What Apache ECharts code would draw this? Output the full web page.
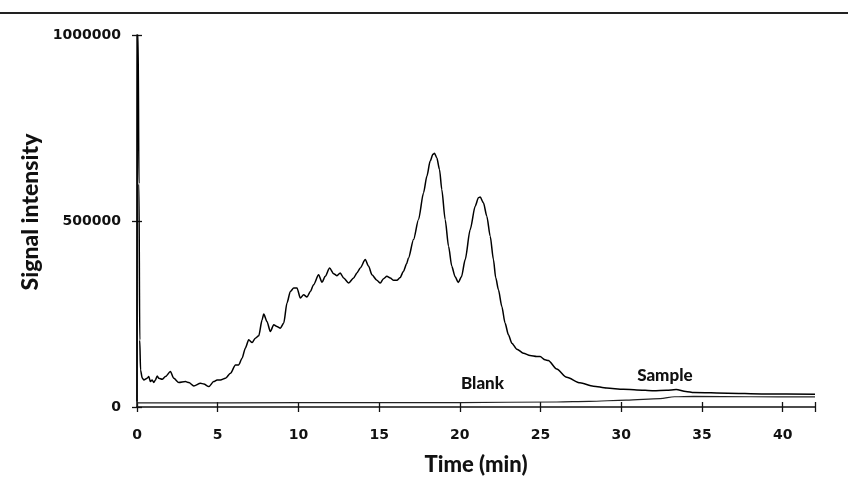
<!DOCTYPE html>
<html>
<head>
<meta charset="utf-8">
<script src="https://cdn.jsdelivr.net/npm/echarts@6/dist/echarts.min.js"></script>
<style>html,body{margin:0;padding:0;background:#fff}#c{width:848px;height:477px}</style>
</head>
<body>
<div id="c"></div>
<script>
// Time axis ticks (min) and signal ticks
const xTickValues = [0, 5, 10, 15, 20, 25, 30, 35, 40];
const yTickValues = [0, 500000, 1000000];

// Sample chromatogram
const sampleTime = [0, 0.02, 0.07, 0.12, 0.17, 0.22, 0.32, 0.42, 0.63, 0.73, 0.83, 0.94, 1.04, 1.14, 1.25, 1.35, 1.56, 1.76, 2.07, 2.28, 2.59, 3.0, 3.21, 3.52, 3.93, 4.14, 4.45, 4.75, 4.96, 5.17, 5.48, 5.79, 6.1, 6.3, 6.51, 6.71, 6.92, 7.13, 7.33, 7.54, 7.75, 7.85, 8.05, 8.26, 8.47, 8.67, 8.88, 9.09, 9.29, 9.5, 9.71, 9.91, 10.12, 10.32, 10.53, 10.74, 10.94, 11.25, 11.46, 11.66, 11.93, 12.18, 12.39, 12.59, 12.8, 13.11, 13.42, 13.62, 13.83, 14.14, 14.35, 14.55, 14.86, 15.07, 15.27, 15.48, 15.69, 15.9, 16.1, 16.3, 16.51, 16.7, 16.82, 17.13, 17.44, 17.75, 17.96, 18.16, 18.33, 18.43, 18.57, 18.74, 18.88, 19.09, 19.3, 19.5, 19.71, 19.9, 20.1, 20.33, 20.64, 20.95, 21.15, 21.26, 21.46, 21.67, 21.88, 22.08, 22.22, 22.39, 22.6, 22.8, 23.01, 23.22, 23.53, 23.94, 24.35, 24.76, 24.97, 25.28, 25.48, 26.0, 26.62, 27.44, 28.27, 29.09, 30.13, 30.95, 32.0, 32.8, 33.4, 34.0, 34.5, 36.6, 38.7, 42];
const sampleSignal = [15000, 1000000, 1000000, 600000, 180000, 99700, 78000, 72800, 77300, 81700, 68300, 72800, 65600, 72800, 83500, 77300, 74600, 81700, 95200, 77300, 65600, 68300, 65600, 56600, 63800, 62000, 54800, 68300, 72800, 72800, 77300, 90700, 113200, 113200, 131200, 158100, 180600, 173400, 185000, 191300, 234500, 249700, 230000, 203000, 221000, 216500, 212000, 225500, 279400, 310800, 319800, 319800, 292900, 301800, 295500, 310800, 328800, 355700, 335100, 351200, 373700, 358400, 353000, 360200, 346800, 333300, 346800, 360200, 373700, 396200, 378200, 355700, 340500, 333300, 345000, 351300, 346700, 340500, 340500, 348000, 365000, 385000, 400700, 450100, 504000, 575800, 620800, 661200, 679100, 681800, 670200, 638700, 584800, 504000, 432100, 378200, 350000, 335000, 350000, 396200, 477000, 539900, 562400, 564200, 548900, 513000, 459000, 396200, 348000, 315300, 270400, 225500, 194000, 171600, 155400, 144600, 138300, 135600, 135600, 126700, 124900, 102000, 80000, 65000, 56000, 51000, 47600, 46000, 43500, 45000, 47000, 42000, 39000, 37000, 35000, 34000];

// Blank run
const blankTime = [0, 10, 20, 26, 28, 30.3, 32.4, 33.3, 34.5, 38, 42];
const blankSignal = [11000, 11500, 12000, 13500, 15000, 18500, 22500, 27500, 28500, 27500, 27000];

const sampleData = sampleTime.map((t, i) => [t, sampleSignal[i]]);
const blankData = blankTime.map((t, i) => [t, blankSignal[i]]);

const chart = echarts.init(document.getElementById('c'), null, {renderer: 'canvas'});
const tickFont = {fontFamily: 'DejaVu Sans', fontWeight: 'bold', fontSize: 14, color: '#111'};
const titleFont = {fontFamily: 'Lato', fontWeight: 900, fontSize: 22, color: '#111'};
const axisLineStyle = {color: '#111', width: 1.5};
const tickStyle = {color: '#111', width: 1.3};

chart.setOption({
  animation: false,
  backgroundColor: '#fff',
  grid: {left: 137, top: 35, right: 33, bottom: 70, containLabel: false, outerBoundsMode: 'none'},
  xAxis: [
    {
      type: 'value', min: 0, max: 42, interval: 5, position: 'bottom',
      axisLine: {show: true, onZero: false, lineStyle: axisLineStyle},
      axisTick: {show: true, length: 5, lineStyle: tickStyle},
      axisLabel: Object.assign({margin: 21, customValues: xTickValues}, tickFont),
      splitLine: {show: false},
      name: 'Time (min)', nameLocation: 'middle', nameGap: 47,
      nameTextStyle: titleFont
    },
    {
      type: 'value', min: 0, max: 42, interval: 5, position: 'bottom',
      axisLine: {show: false, onZero: false},
      axisTick: {show: true, inside: true, length: 5, lineStyle: tickStyle},
      axisLabel: {show: false},
      splitLine: {show: false}
    }
  ],
  yAxis: [
    {
      type: 'value', min: 0, max: 1000000, interval: 500000, position: 'left',
      axisLine: {show: true, onZero: false, lineStyle: axisLineStyle},
      axisTick: {show: true, length: 5, lineStyle: tickStyle},
      axisLabel: Object.assign({margin: 16, customValues: yTickValues, formatter: v => String(v)}, tickFont),
      splitLine: {show: false}
    },
    {
      type: 'value', min: 0, max: 1000000, interval: 500000, position: 'left',
      axisLine: {show: false, onZero: false},
      axisTick: {show: true, inside: true, length: 5, lineStyle: tickStyle},
      axisLabel: {show: false},
      splitLine: {show: false}
    }
  ],
  graphic: [
    {type: 'line', shape: {x1: 0, y1: 13, x2: 848, y2: 13}, style: {stroke: '#222', lineWidth: 2}, silent: true},
    {type: 'text', x: 31, y: 212, rotation: Math.PI / 2,
     style: {text: 'Signal intensity', fill: '#111', font: '900 23px Lato', textAlign: 'center', textVerticalAlign: 'middle'}}
  ],
  series: [
    {
      name: 'Sample', type: 'line', xAxisIndex: 0, yAxisIndex: 0,
      data: sampleData, showSymbol: false, smooth: 0.25, smoothMonotone: 'x',
      lineStyle: {color: '#000', width: 1.5},
      markPoint: {
        symbol: 'rect', symbolSize: 1, itemStyle: {color: 'rgba(0,0,0,0)'},
        label: {show: true, position: 'inside', fontFamily: 'Lato', fontWeight: 900, fontSize: 17, color: '#111', formatter: p => p.name},
        data: [
          {name: 'Blank', coord: [21.4, 62000]},
          {name: 'Sample', coord: [32.7, 85000]}
        ]
      }
    },
    {
      name: 'Blank', type: 'line', xAxisIndex: 0, yAxisIndex: 0,
      data: blankData, showSymbol: false, smooth: 0.3, smoothMonotone: 'x',
      lineStyle: {color: '#222', width: 1.2}
    }
  ]
});
</script>
</body>
</html>
